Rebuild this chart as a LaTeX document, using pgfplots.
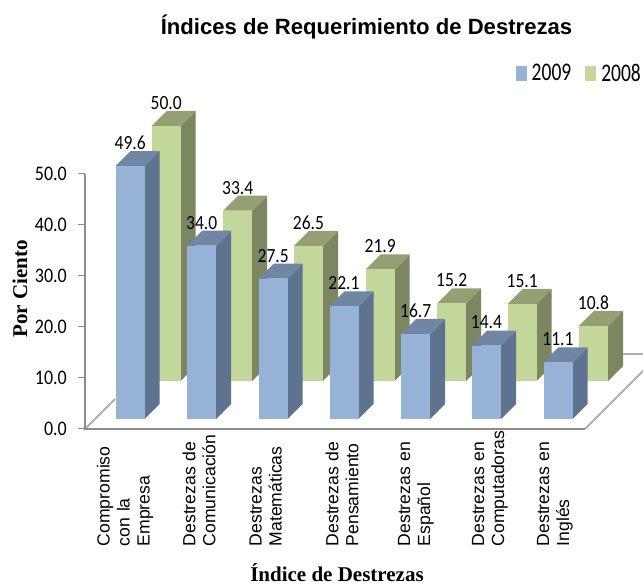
\documentclass[border=0pt]{standalone}
\usepackage{fontspec}
\usepackage{graphicx}
\usepackage{pgfplots}
\usepackage{pgfplotstable}
\pgfplotsset{compat=1.18}
\setmainfont{Carlito}
\newfontfamily\arialf{Liberation Sans}
\newfontfamily\tnrf{Liberation Serif}
\definecolor{bfront}{RGB}{150,179,215}
\definecolor{bside}{RGB}{93,115,143}
\definecolor{btop}{RGB}{112,134,165}
\definecolor{gfront}{RGB}{196,215,155}
\definecolor{gside}{RGB}{124,134,96}
\definecolor{gtop}{RGB}{148,160,115}
\definecolor{axgray}{RGB}{140,140,140}
\definecolor{flgray}{RGB}{175,175,175}
% left = left edge of the front face on the page, val = the chart's value
\pgfplotstableread{
left val
115.7 49.6
187.2 34.0
258.7 27.5
329.5 22.1
401.2 16.7
472.0 14.4
543.5 11.1
}\tabA
\pgfplotstableread{
left val
151.7 50.0
223.2 33.4
294.0 26.5
365.7 21.9
437.2 15.2
507.7 15.1
579.0 10.8
}\tabB
\newcommand\OneBar[5]{% left, depth, value, colour prefix
  \pgfmathsetmacro\xa{#1-#2}\pgfmathsetmacro\xb{#1-#2+29}\pgfmathsetmacro\dd{#2+15}%
  \edef\tmp{\noexpand\addplot3[forget plot,draw=none,fill=#4side] coordinates {(\xb,#2,0)(\xb,\dd,0)(\xb,\dd,#3)(\xb,#2,#3)} --cycle;
  \noexpand\addplot3[forget plot,draw=none,fill=#4top] coordinates {(\xa,#2,#3)(\xb,#2,#3)(\xb,\dd,#3)(\xa,\dd,#3)} --cycle;
  \noexpand\addplot3[forget plot,draw=none,fill=#4front] coordinates {(\xa,#2,0)(\xb,#2,0)(\xb,#2,#3)(\xa,#2,#3)} --cycle;}%
  \tmp}
\newcommand\AllBars[3]{% table, depth, colour prefix
  \pgfplotsforeachungrouped \i in {0,...,6}{%
    \pgfplotstablegetelem{\i}{left}\of#1\let\lft\pgfplotsretval
    \pgfplotstablegetelem{\i}{val}\of#1\let\vl\pgfplotsretval
    \OneBar{\lft}{#2}{\vl}{#3}{}}}
\begin{document}
\begin{tikzpicture}[x=1pt,y=1pt]
\path[use as bounding box] (0,0) rectangle (643,586);
\begin{scope}
\clip (0,0) rectangle (643,586);
\begin{axis}[
  at={(85pt,157pt)},anchor=south west,
  x={(1pt,0pt)},y={(1pt,1pt)},z={(0pt,5.1pt)},
  xmin=85,xmax=585,ymin=0,ymax=75,zmin=0,zmax=50,
  axis lines=left,clip=false,
  axis line style={draw=none},
  xtick={123,197,263.7,340,414,488,553},
  xticklabels={{Compromiso\\con la\\Empresa},{Destrezas de\\Comunicación},{Destrezas\\Matemáticas},{Destrezas de\\Pensamiento},{Destrezas en\\Español},{Destrezas en\\Computadoras},{Destrezas en\\Inglés}},
  xticklabel style={rotate=90,anchor=east,text width=111pt,align=left,inner sep=0pt,yshift=-2pt,xshift=-6pt,
    font=\arialf\fontsize{17.6}{20}\selectfont},
  major tick style={draw=none},
  ytick=\empty,
  ztick={0,10,20,30,40,50},
  major tick length=0pt,
  zticklabel style={anchor=east,inner sep=0pt,xshift=-18pt,font=\fontsize{18}{20}\selectfont,yscale=1.15,/pgf/number format/fixed,/pgf/number format/fixed zerofill,/pgf/number format/precision=1,/pgf/number format/assume math mode=true},
  legend columns=2,
  legend style={draw=none,fill=none,inner sep=0pt,at={(axis cs:643,0,72)},anchor=north east,font=\fontsize{19.5}{20}\selectfont,
    /tikz/column 2/.style={column sep=12pt}},
  legend image code/.code={\fill[#1] (0pt,-7.5pt) rectangle (11pt,7.5pt);},
  nodes near coords style={anchor=center,yshift=23pt,yscale=1.15,font=\fontsize{17.5}{20}\selectfont,
    /pgf/number format/fixed,/pgf/number format/fixed zerofill,/pgf/number format/precision=1,/pgf/number format/assume math mode=true},
]
\addlegendimage{fill=bfront,draw=none}\addlegendentry{\hspace*{3pt}\scalebox{1}[1.3]{2009}}
\addlegendimage{fill=gfront,draw=none}\addlegendentry{\hspace*{3pt}\scalebox{1}[1.3]{2008}}
% floor edges
\addplot3[forget plot,color=flgray,line width=2pt] coordinates {(585,0,0)(585,68,0)};
\addplot3[forget plot,color=flgray,line width=2pt] coordinates {(585,75,0)(85,75,0)};
\addplot3[forget plot,color=flgray,line width=2pt] coordinates {(85,0,0)(85,30,0)};
% axis lines and ticks
\addplot3[forget plot,color=axgray,line width=2.4pt] coordinates {(85,0,50)(85,0,0)(585,0,0)};
\pgfplotsinvokeforeach{0,10,20,30,40,50}{
  \addplot3[forget plot,color=axgray,line width=1pt] coordinates {(78,0,#1)(85,0,#1)};
}
\AllBars{\tabB}{48}{g}
\AllBars{\tabA}{10}{b}
% value labels
\addplot3[forget plot,draw=none,mark=none,point meta=z,nodes near coords]
  table[x expr=\thisrow{left}+14.5-48,y expr=48,z=val] {\tabB};
\addplot3[forget plot,draw=none,mark=none,point meta=z,nodes near coords]
  table[x expr=\thisrow{left}+14.5-10,y expr=10,z=val] {\tabA};
\end{axis}
\end{scope}
\node[font=\arialf\bfseries\fontsize{22.1}{24}\selectfont,inner sep=0pt] at (366.5,559) {Índices de Requerimiento de Destrezas};
\node[font=\tnrf\bfseries\fontsize{21}{22}\selectfont,rotate=90,inner sep=0pt] at (20,297) {Por Ciento};
\node[font=\tnrf\bfseries\fontsize{21}{21}\selectfont,inner sep=0pt,anchor=base] at (337,4) {Índice de Destrezas};
\end{tikzpicture}
\end{document}
